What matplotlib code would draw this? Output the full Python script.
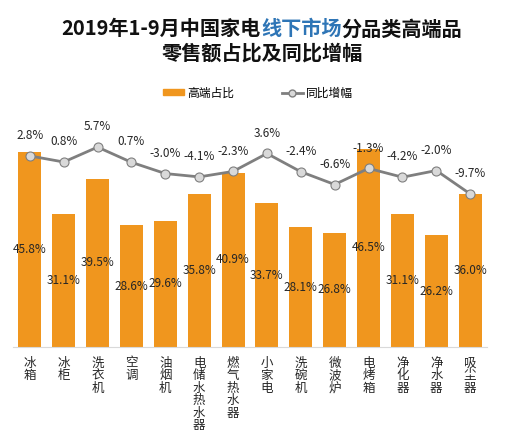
import matplotlib
matplotlib.use("Agg")
import matplotlib.pyplot as plt
import numpy as np
from matplotlib.lines import Line2D
from matplotlib.patches import Patch

plt.rcParams["font.family"] = ["Noto Sans CJK SC", "DejaVu Sans"]

categories = ["冰箱", "冰柜", "洗衣机", "空调", "油烟机", "电储水热水器", "燃气热水器",
              "小家电", "洗碗机", "微波炉", "电烤箱", "净化器", "净水器", "吸尘器"]
share = [45.8, 31.1, 39.5, 28.6, 29.6, 35.8, 40.9, 33.7, 28.1, 26.8, 46.5, 31.1, 26.2, 36.0]
growth = [2.8, 0.8, 5.7, 0.7, -3.0, -4.1, -2.3, 3.6, -2.4, -6.6, -1.3, -4.2, -2.0, -9.7]

BAR = "#F0961E"
LINE = "#7F7F7F"

fig = plt.figure(figsize=(5.16, 4.38), dpi=100)
ax = fig.add_axes([0.025, 0.208, 0.919, 0.486])
x = np.arange(len(categories))
ax.bar(x, share, width=0.68, color=BAR, zorder=2)
for xi, v in zip(x, share):
    ax.text(xi, v / 2, f"{v:.1f}%", ha="center", va="center", fontsize=8.5,
            color="#262626", zorder=5)
ax.set_ylim(0, 50)
ax.set_xlim(-0.5, len(categories) - 0.5)
ax.set_yticks([])
ax.set_xticks(x)
ax.set_xticklabels(["\n".join(c) for c in categories], fontsize=9,
                   color="#262626", linespacing=0.95, va="top")
ax.tick_params(axis="x", length=0, pad=7)
for s in ["top", "right", "left"]:
    ax.spines[s].set_visible(False)
ax.spines["bottom"].set_color("#D9D9D9")

ax2 = ax.twinx()
ax2.plot(x, growth, color=LINE, lw=2.0, marker="o", markersize=6.5,
         markerfacecolor="#D9D9D9", markeredgecolor=LINE, markeredgewidth=0.8,
         zorder=4)
for xi, v in zip(x, growth):
    ax2.annotate(f"{v:.1f}%", (xi, v), xytext=(0, 10), textcoords="offset points",
                 ha="center", va="bottom", fontsize=8.5, color="#262626")
ax2.set_ylim(-60, 10)
ax2.set_yticks([])
for s in ["top", "right", "left", "bottom"]:
    ax2.spines[s].set_visible(False)

# title with coloured segment
fig.canvas.draw()
r = fig.canvas.get_renderer()
parts = [("2019年1-9月中国家电", "#111111"), ("线下市场", "#2E75B6"),
         ("分品类高端品", "#111111")]
texts = [fig.text(0, 0.934, p, color=c, fontsize=14.5, fontweight="bold",
                  va="center", ha="left") for p, c in parts]
widths = [t.get_window_extent(r).width for t in texts]
xs = 262 - sum(widths) / 2
for t, w in zip(texts, widths):
    t.set_x(xs / 516)
    xs += w
fig.text(0.508, 0.879, "零售额占比及同比增幅", color="#111111", fontsize=14.5,
         fontweight="bold", ha="center", va="center")

handles = [Patch(color=BAR, label="高端占比"),
           Line2D([0], [0], color=LINE, lw=2, marker="o", markersize=5,
                  markerfacecolor="#D9D9D9", markeredgecolor=LINE, label="同比增幅")]
fig.legend(handles=handles, loc="center", bbox_to_anchor=(0.5, 0.788), ncol=2,
           frameon=False, fontsize=8.5, handlelength=1.8, handleheight=0.4,
           columnspacing=4, handletextpad=0.3)

fig.savefig("out.png", dpi=100)
